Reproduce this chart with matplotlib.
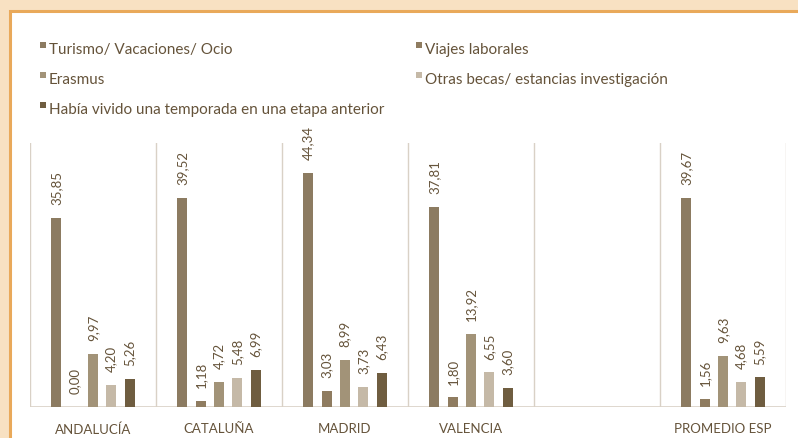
import numpy as np
import matplotlib
matplotlib.use('Agg')
import matplotlib.pyplot as plt
import matplotlib.patches as mpatches

plt.rcParams['font.family'] = ['Lato', 'DejaVu Sans']

categories = ['ANDALUCÍA', 'CATALUÑA', 'MADRID', 'VALENCIA', '', 'PROMEDIO ESP']
series_names = ['Turismo/ Vacaciones/ Ocio', 'Viajes laborales', 'Erasmus',
                'Otras becas/ estancias investigación',
                'Había vivido una temporada en una etapa anterior']
turismo = [35.85, 39.52, 44.34, 37.81, np.nan, 39.67]
laborales = [0.00, 1.18, 3.03, 1.80, np.nan, 1.56]
erasmus = [9.97, 4.72, 8.99, 13.92, np.nan, 9.63]
otras_becas = [4.20, 5.48, 3.73, 6.55, np.nan, 4.68]
anterior = [5.26, 6.99, 6.43, 3.60, np.nan, 5.59]

series = [turismo, laborales, erasmus, otras_becas, anterior]
COLORS = ['#8c7b61', '#8f7c60', '#a29378', '#c5b9a7', '#6f5d40']
TXT = '#65533a'
GRID = '#d9d1c6'

fig = plt.figure(figsize=(7.98, 4.39), dpi=100, facecolor='white')

# peach frame at top and left
W, H = 798, 439
fig.patches.append(mpatches.Rectangle((0, 0), 1, 1, transform=fig.transFigure,
                                      facecolor='#f8e1c2', edgecolor='none', zorder=-10))
fig.patches.append(mpatches.Rectangle((10 / W, -0.05), 1.1, (H - 12) / H + 0.05,
                                      transform=fig.transFigure, facecolor='white',
                                      edgecolor='#e9a95a', lw=2.2, zorder=-9))

ax = fig.add_axes([30 / W, 1 - 408 / H, 756 / W, 264 / H])
ax.set_facecolor('none')
x = np.arange(len(categories))
step, width = 0.146, 0.08

for k, (vals, col) in enumerate(zip(series, COLORS)):
    pos = x + (k - 2) * step
    v = np.array(vals, dtype=float)
    ok = ~np.isnan(v)
    ax.bar(pos[ok], v[ok], width=width, color=col, zorder=3)
    for p, val in zip(pos[ok], v[ok]):
        ax.annotate(f'{val:.2f}'.replace('.', ','), (p, val), xytext=(0, 10),
                    textcoords='offset points', rotation=90, ha='center', va='bottom',
                    fontsize=9.5, color=TXT)

for b in np.arange(len(categories) + 1) - 0.5:
    ax.axvline(b, color=GRID, lw=1, zorder=1)
ax.axhline(0, color=GRID, lw=1.2, zorder=2)

ax.set_xlim(-0.5, len(categories) - 0.5)
ax.set_ylim(0, 50)
ax.set_yticks([])
ax.set_xticks(x)
ax.set_xticklabels(categories, fontsize=9.5, color=TXT)
ax.tick_params(axis='x', length=0, pad=11)
for sp in ax.spines.values():
    sp.set_visible(False)

# legend, two columns like the original
legend_pos = [(40, 50), (416, 50), (40, 80), (416, 80), (40, 110)]
for (lx, ly), name, col in zip(legend_pos, series_names, COLORS):
    fig.patches.append(mpatches.Rectangle((lx / W, 1 - (ly - 1) / H), 6 / W, 6 / H,
                                          transform=fig.transFigure, facecolor=col,
                                          edgecolor='none'))
    fig.text((lx + 9) / W, 1 - ly / H, name, fontsize=11, color=TXT, va='center', ha='left')

fig.savefig('out.png', dpi=100, facecolor=fig.get_facecolor())
